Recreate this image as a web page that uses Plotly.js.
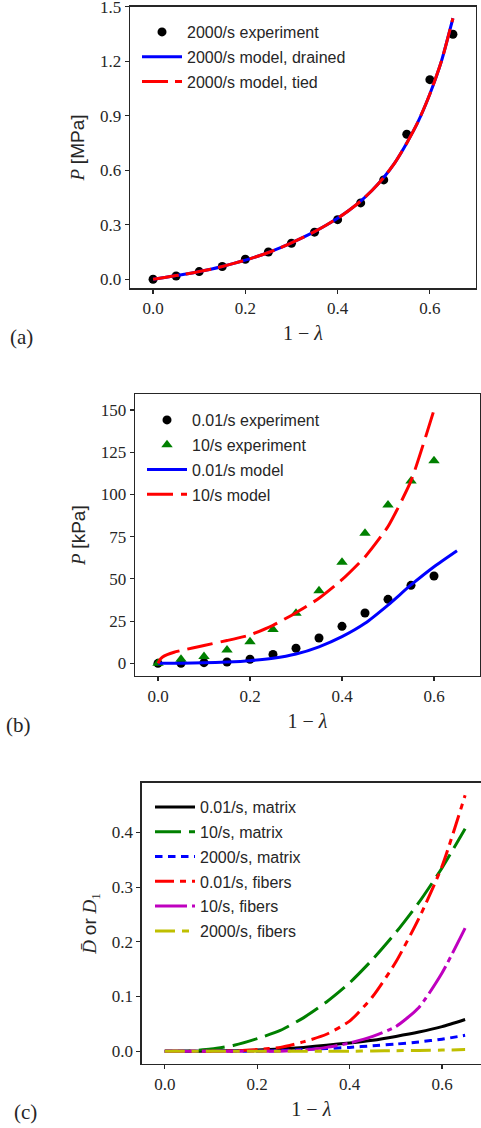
<!DOCTYPE html>
<html><head><meta charset="utf-8">
<script src="https://cdn.plot.ly/plotly-3.0.1.min.js"></script>
<style>html,body{margin:0;padding:0;background:#fff;overflow:hidden}</style>
</head><body><div id="chart" style="width:481px;height:1128px"></div>
<script>
// ---------- Panel (a): 2000/s ----------
const strainA = [0,0.05,0.10,0.15,0.20,0.25,0.30,0.35,0.40,0.45,0.50,0.55,0.60,0.65];
const exp2000 = [0,0.018,0.042,0.07,0.11,0.15,0.198,0.259,0.328,0.42,0.547,0.798,1.099,1.349];
const modelStrainA = [0,0.025,0.05,0.075,0.1,0.125,0.15,0.175,0.2,0.225,0.25,0.275,0.3,0.325,0.35,0.375,0.4,0.425,0.45,0.475,0.5,0.525,0.55,0.575,0.6,0.625,0.65];
const drained2000 = [0,0.01,0.02,0.03,0.042,0.055,0.07,0.087,0.105,0.125,0.147,0.172,0.2,0.23,0.262,0.297,0.336,0.38,0.43,0.49,0.56,0.645,0.75,0.87,1.02,1.2,1.437];
const tied2000 = [0,0.01,0.02,0.03,0.042,0.055,0.07,0.087,0.105,0.125,0.147,0.172,0.2,0.23,0.262,0.297,0.336,0.38,0.43,0.49,0.56,0.645,0.75,0.87,1.02,1.2,1.437];

// ---------- Panel (b): 0.01/s and 10/s ----------
const strainB = [0,0.05,0.10,0.15,0.20,0.25,0.30,0.35,0.40,0.45,0.50,0.55,0.60];
const exp001 = [0,0,0.4,0.8,2.4,5.3,8.9,15,21.9,29.8,37.9,46.2,51.7];
const exp10 = [0,2.4,4,7.9,12.8,20,29.6,43,59.8,77,93.7,108,120];
const modelStrain001 = [0,0.05,0.10,0.15,0.20,0.25,0.30,0.35,0.40,0.45,0.50,0.55,0.60,0.65];
const model001 = [0,0.05,0.3,0.8,1.6,3,5.5,9.8,15.8,23.7,34.5,46.4,57.2,66.7];
const modelStrain10 = [0,0.005,0.01,0.02,0.035,0.05,0.075,0.1,0.15,0.2,0.25,0.3,0.35,0.4,0.45,0.5,0.55,0.6];
const model10 = [0,2.5,3.8,5.2,6.6,7.6,9.1,10.6,13.5,16.8,22.5,30,38.5,49.5,63,81,108,150];

// ---------- Panel (c): damage ----------
const strainC = [0,0.05,0.10,0.15,0.20,0.25,0.30,0.35,0.40,0.45,0.50,0.55,0.60,0.65];
const matrix001 = [0,0,0.0003,0.001,0.002,0.004,0.007,0.011,0.015,0.02,0.027,0.035,0.045,0.058];
const matrix10 = [0,0.0005,0.004,0.011,0.023,0.038,0.061,0.09,0.125,0.168,0.217,0.272,0.335,0.407];
const matrix2000 = [0,0,0,0,0,0.001,0.003,0.005,0.007,0.01,0.013,0.017,0.022,0.029];
const fibers001 = [0,0,0,0.0005,0.003,0.007,0.017,0.031,0.055,0.1,0.163,0.243,0.338,0.468];
const fibers10 = [0,0,0,0,0,0,0.002,0.007,0.015,0.027,0.045,0.08,0.143,0.225];
const fibers2000 = [0,0,0,0,0,0,0,0,0,0.0005,0.001,0.0015,0.002,0.003];

const xTicks = [0,0.2,0.4,0.6];
const xTickText = ['0.0','0.2','0.4','0.6'];
const yTicksA = [0,0.3,0.6,0.9,1.2,1.5];
const yTickTextA = ['0.0','0.3','0.6','0.9','1.2','1.5'];
const yTicksB = [0,25,50,75,100,125,150];
const yTickTextB = ['0','25','50','75','100','125','150'];
const yTicksC = [0,0.1,0.2,0.3,0.4];
const yTickTextC = ['0.0','0.1','0.2','0.3','0.4'];

const W = 481, H = 1128;
const px = v => v / W;
const py = v => 1 - v / H;

const SERIF = 'Liberation Serif, DejaVu Serif, serif';
const SANS = 'Liberation Sans, DejaVu Sans, sans-serif';
const INK = '#262626';

function xAxis(dom, range, anchor) {
  return {
    domain: dom, range: range, anchor: anchor,
    tickvals: xTicks, ticktext: xTickText, ticklabeloverflow: 'allow',
    ticks: 'outside', ticklen: 4, tickwidth: 1.2, tickcolor: INK,
    showline: true, linecolor: INK, linewidth: 1.4, mirror: true,
    showgrid: false, zeroline: false,
    tickfont: {family: SERIF, size: 17, color: INK},
    title: {text: '1 − <i>λ</i>', font: {family: SERIF, size: 20, color: INK}, standoff: 9}
  };
}
function yAxis(dom, range, anchor, tv, tt, title, mirror) {
  return {
    domain: dom, range: range, anchor: anchor,
    tickvals: tv, ticktext: tt, ticklabeloverflow: 'allow',
    ticks: 'outside', ticklen: 4, tickwidth: 1.2, tickcolor: INK,
    showline: true, linecolor: INK, linewidth: 1.4, mirror: mirror,
    showgrid: false, zeroline: false,
    tickfont: {family: SERIF, size: 17, color: INK},
    title: {text: title, font: {family: SERIF, size: 19, color: INK}, standoff: 10}
  };
}

const traces = [
  // (a)
  {x: strainA, y: exp2000, mode: 'markers', name: '2000/s experiment', xaxis: 'x', yaxis: 'y', legend: 'legend', legendgroup: 'a1',
   marker: {color: '#000', size: 9}},
  {x: modelStrainA, y: drained2000, mode: 'lines', name: '2000/s model, drained', xaxis: 'x', yaxis: 'y', legend: 'legend', legendgroup: 'a2',
   line: {color: '#0000ff', width: 3, shape: 'spline', smoothing: 0.6}},
  {x: modelStrainA, y: tied2000, mode: 'lines', name: '2000/s model, tied', xaxis: 'x', yaxis: 'y', legend: 'legend', legendgroup: 'a3',
   line: {color: '#ff0000', width: 3, dash: '26px,7px', shape: 'spline', smoothing: 0.6}},
  // (b)
  {x: strainB, y: exp001, mode: 'markers', name: '0.01/s experiment', xaxis: 'x2', yaxis: 'y2', legend: 'legend2', legendgroup: 'b1',
   marker: {color: '#000', size: 9}},
  {x: strainB, y: exp10, mode: 'markers', name: '10/s experiment', xaxis: 'x2', yaxis: 'y2', legend: 'legend2', legendgroup: 'b2',
   marker: {color: '#008000', size: 10, symbol: 'triangle-up'}},
  {x: modelStrain001, y: model001, mode: 'lines', name: '0.01/s model', xaxis: 'x2', yaxis: 'y2', legend: 'legend2', legendgroup: 'b3',
   line: {color: '#0000ff', width: 3, shape: 'spline', smoothing: 0.6}},
  {x: modelStrain10, y: model10, mode: 'lines', name: '10/s model', xaxis: 'x2', yaxis: 'y2', legend: 'legend2', legendgroup: 'b4',
   line: {color: '#ff0000', width: 3, dash: '26px,8px', shape: 'spline', smoothing: 0.5}},
  // (c)
  {x: strainC, y: matrix001, mode: 'lines', name: '0.01/s, matrix', xaxis: 'x3', yaxis: 'y3', legend: 'legend3', legendgroup: 'c1',
   line: {color: '#000000', width: 3, shape: 'spline', smoothing: 0.6}},
  {x: strainC, y: matrix10, mode: 'lines', name: '10/s, matrix', xaxis: 'x3', yaxis: 'y3', legend: 'legend3', legendgroup: 'c2',
   line: {color: '#008000', width: 3, dash: '26px,8px', shape: 'spline', smoothing: 0.6}},
  {x: strainC, y: matrix2000, mode: 'lines', name: '2000/s, matrix', xaxis: 'x3', yaxis: 'y3', legend: 'legend3', legendgroup: 'c3',
   line: {color: '#0000ff', width: 3, dash: '7.5px,5.5px', shape: 'spline', smoothing: 0.6}},
  {x: strainC, y: fibers001, mode: 'lines', name: '0.01/s, fibers', xaxis: 'x3', yaxis: 'y3', legend: 'legend3', legendgroup: 'c4',
   line: {color: '#ff0000', width: 3, dash: '19px,6px,6px,6px', shape: 'spline', smoothing: 0.6}},
  {x: strainC, y: fibers10, mode: 'lines', name: '10/s, fibers', xaxis: 'x3', yaxis: 'y3', legend: 'legend3', legendgroup: 'c5',
   line: {color: '#bf00bf', width: 3, dash: '32px,5px,5px,5px', shape: 'spline', smoothing: 0.6}},
  {x: strainC, y: fibers2000, mode: 'lines', name: '2000/s, fibers', xaxis: 'x3', yaxis: 'y3', legend: 'legend3', legendgroup: 'c6',
   line: {color: '#bfbf00', width: 3, dash: '20px,7px,7px,7px', shape: 'spline', smoothing: 0.6}}
];

function legendCfg(x, y) {
  return {x: x, y: y, xanchor: 'left', yanchor: 'top', bgcolor: 'rgba(0,0,0,0)', borderwidth: 0,
    font: {family: SANS, size: 16, color: INK}, traceorder: 'grouped', tracegroupgap: 1, itemwidth: 40};
}

const layout = {
  width: W, height: H, autosize: false,
  margin: {l: 0, r: 0, t: 0, b: 0},
  paper_bgcolor: '#fff', plot_bgcolor: '#fff',
  xaxis: xAxis([px(130), px(476)], [-0.05, 0.70], 'y'),
  yaxis: yAxis([py(288.3), py(6.7)], [-0.05, 1.5006], 'x', yTicksA, yTickTextA,
    '<i>P</i> <span style="font-family:Liberation Sans">[MPa]</span>', true),
  xaxis2: xAxis([px(135), px(480)], [-0.05, 0.70], 'y2'),
  yaxis2: yAxis([py(676), py(394.3)], [-7.5, 159.3], 'x2', yTicksB, yTickTextB,
    '<i>P</i> <span style="font-family:Liberation Sans">[kPa]</span>', true),
  xaxis3: xAxis([px(141.7), 1], [-0.05, 0.6844], 'y3'),
  yaxis3: yAxis([py(1064), py(782.7)], [-0.0234, 0.491], 'x3', yTicksC, yTickTextC,
    '<i>D̄</i> <span style="font-family:Liberation Sans">or</span> <i>D</i><sub>1</sub>', false),
  legend: legendCfg(px(137), py(15)),
  legend2: legendCfg(px(142), py(403)),
  legend3: legendCfg(px(150), py(790)),
  showlegend: true,
  annotations: [
    {text: '(a)', xref: 'paper', yref: 'paper', x: px(21), y: py(337), xanchor: 'center', yanchor: 'middle', showarrow: false,
     font: {family: SERIF, size: 21, color: INK}},
    {text: '(b)', xref: 'paper', yref: 'paper', x: px(18), y: py(725), xanchor: 'center', yanchor: 'middle', showarrow: false,
     font: {family: SERIF, size: 21, color: INK}},
    {text: '(c)', xref: 'paper', yref: 'paper', x: px(25.5), y: py(1112), xanchor: 'center', yanchor: 'middle', showarrow: false,
     font: {family: SERIF, size: 21, color: INK}}
  ]
};

Plotly.newPlot('chart', traces, layout, {staticPlot: true, displayModeBar: false});
</script>
</body></html>
